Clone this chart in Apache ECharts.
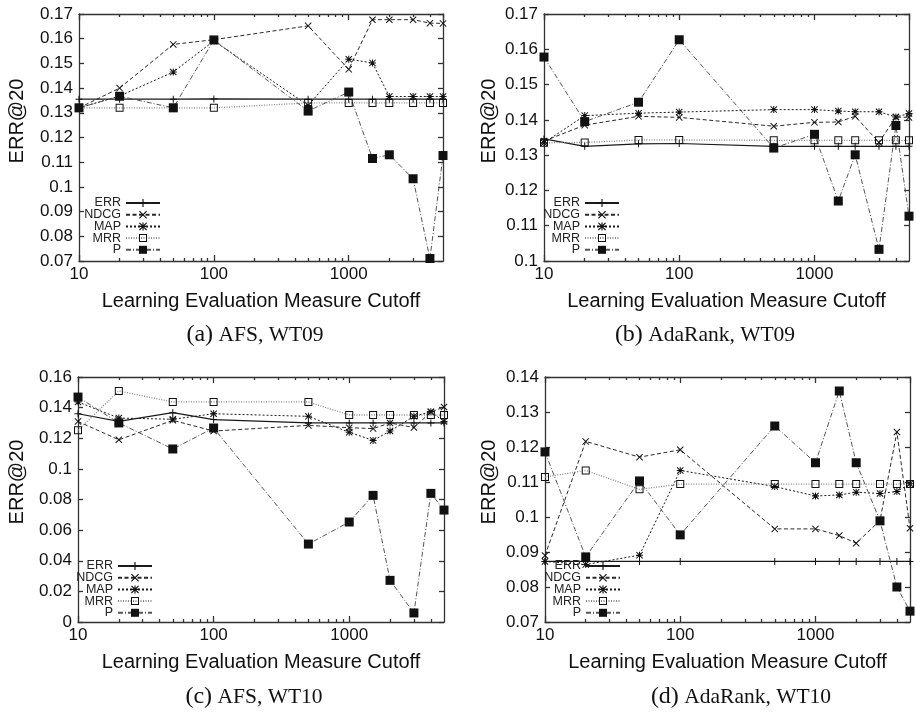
<!DOCTYPE html>
<html>
<head>
<meta charset="utf-8">
<title>ERR@20 vs learning evaluation measure cutoff</title>
<script src="https://cdn.jsdelivr.net/npm/echarts@6/dist/echarts.min.js"></script>
<style>
  html, body { margin: 0; padding: 0; background: #fff; }
  #chart { width: 916px; height: 714px; }
</style>
</head>
<body>
<div id="chart"></div>
<script>
// x values (cutoffs), shared by the four panels
var cutoffs = [10, 20, 50, 100, 500, 1000, 1500, 2000, 3000, 4000, 5000];
var minorTicks = [20, 30, 40, 50, 60, 70, 80, 90, 200, 300, 400, 500, 600, 700, 800, 900, 2000, 3000, 4000];
var seriesNames = ['ERR', 'NDCG', 'MAP', 'MRR', 'P'];

// (a) AFS, WT09
var afs09ERR = [0.1355, 0.1355, 0.1355, 0.1356, 0.1355, 0.1355, 0.1355, 0.1355, 0.1355, 0.1355, 0.1355];
var afs09NDCG = [0.132, 0.140, 0.1577, 0.1596, 0.1652, 0.1476, 0.1677, 0.1677, 0.1677, 0.1663, 0.1662];
var afs09MAP = [0.132, 0.1368, 0.1465, 0.1591, 0.1330, 0.1517, 0.1502, 0.1366, 0.1366, 0.1366, 0.1366];
var afs09MRR = [0.132, 0.132, 0.132, 0.132, 0.134, 0.134, 0.134, 0.134, 0.134, 0.134, 0.134];
var afs09P = [0.132, 0.1367, 0.132, 0.1595, 0.1307, 0.1384, 0.1115, 0.113, 0.1033, 0.0710, 0.1127];

// (b) AdaRank, WT09
var ada09ERR = [0.1346, 0.1325, 0.1332, 0.1333, 0.1325, 0.1325, 0.1325, 0.1325, 0.1325, 0.1325, 0.1325];
var ada09NDCG = [0.134, 0.1385, 0.141, 0.1407, 0.1382, 0.1393, 0.1394, 0.141, 0.1336, 0.1408, 0.1407];
var ada09MAP = [0.1335, 0.1412, 0.1419, 0.1422, 0.1429, 0.1429, 0.1425, 0.1423, 0.1423, 0.1408, 0.1418];
var ada09MRR = [0.1335, 0.1336, 0.1343, 0.1343, 0.1342, 0.1342, 0.1342, 0.1342, 0.1342, 0.1342, 0.1342];
var ada09P = [0.1578, 0.1395, 0.145, 0.1627, 0.132, 0.1359, 0.117, 0.1301, 0.1033, 0.1384, 0.1127];

// (c) AFS, WT10
var afs10ERR = [0.136, 0.131, 0.1367, 0.1322, 0.130, 0.130, 0.130, 0.130, 0.130, 0.130, 0.130];
var afs10NDCG = [0.131, 0.119, 0.1317, 0.1247, 0.1284, 0.1269, 0.1263, 0.130, 0.127, 0.1371, 0.1404];
var afs10MAP = [0.1437, 0.1332, 0.1324, 0.136, 0.1343, 0.1239, 0.1186, 0.1247, 0.1343, 0.1373, 0.131];
var afs10MRR = [0.1252, 0.1509, 0.1437, 0.1437, 0.1437, 0.1352, 0.1352, 0.1352, 0.1352, 0.1352, 0.1352];
var afs10P = [0.1469, 0.130, 0.113, 0.1267, 0.0509, 0.0653, 0.0827, 0.0272, 0.0059, 0.084, 0.0731];

// (d) AdaRank, WT10
var ada10ERR = [0.0873, 0.0873, 0.0873, 0.0873, 0.0873, 0.0873, 0.0873, 0.0873, 0.0873, 0.0873, 0.0873];
var ada10NDCG = [0.089, 0.1216, 0.1171, 0.1192, 0.0966, 0.0966, 0.0947, 0.0925, 0.099, 0.1243, 0.0968];
var ada10MAP = [0.0873, 0.0864, 0.0891, 0.1133, 0.1087, 0.106, 0.1063, 0.1071, 0.1067, 0.1073, 0.1095];
var ada10MRR = [0.1114, 0.1133, 0.1079, 0.1094, 0.1094, 0.1094, 0.1094, 0.1094, 0.1094, 0.1094, 0.1094];
var ada10P = [0.1186, 0.0886, 0.1103, 0.0949, 0.126, 0.1155, 0.136, 0.1155, 0.0989, 0.080, 0.0731];

// y tick ranges per panel: min, max, step
var yRangeA = [0.07, 0.17, 0.01];
var yRangeB = [0.1, 0.17, 0.01];
var yRangeC = [0, 0.16, 0.02];
var yRangeD = [0.07, 0.14, 0.01];

var FONT = 'Liberation Sans';
var SERIF = 'Liberation Serif';

var panels = [
  { grid: { left: 79, top: 14, width: 364, height: 247 }, y: yRangeA,
    data: [afs09ERR, afs09NDCG, afs09MAP, afs09MRR, afs09P],
    legend: { left: 83, top: 196.5 }, yName: [17, 121], caption: ['(a)', 'AFS, WT09', 255, 335] },
  { grid: { left: 544, top: 14, width: 365, height: 247 }, y: yRangeB,
    data: [ada09ERR, ada09NDCG, ada09MAP, ada09MRR, ada09P],
    legend: { left: 542, top: 196.5 }, yName: [489, 121], caption: ['(b)', 'AdaRank, WT09', 705, 335] },
  { grid: { left: 78, top: 377, width: 366, height: 245 }, y: yRangeC,
    data: [afs10ERR, afs10NDCG, afs10MAP, afs10MRR, afs10P],
    legend: { left: 75, top: 559.5 }, yName: [17, 482], caption: ['(c)', 'AFS, WT10', 254, 697] },
  { grid: { left: 545, top: 377, width: 365, height: 245 }, y: yRangeD,
    data: [ada10ERR, ada10NDCG, ada10MAP, ada10MRR, ada10P],
    legend: { left: 543, top: 559.5 }, yName: [489, 482], caption: ['(d)', 'AdaRank, WT10', 741, 697] }
];

// gnuplot-like point types
var plusPath = 'path://M3 0h1v3h3v1h-3v3h-1v-3h-3v-1h3z';
var crossPath = 'path://M0 0.7L0.7 0L3.5 2.8L6.3 0L7 0.7L4.2 3.5L7 6.3L6.3 7L3.5 4.2L0.7 7L0 6.3L2.8 3.5Z';
var starPath = 'path://M3 0h1v3h3v1h-3v3h-1v-3h-3v-1h3z M0 0.7L0.7 0L3.5 2.8L6.3 0L7 0.7L4.2 3.5L7 6.3L6.3 7L3.5 4.2L0.7 7L0 6.3L2.8 3.5Z';
var boxPath = 'path://M0 0H8V8H0Z M1 1V7H7V1Z';

var styles = [
  { symbol: plusPath, symbolSize: 7, line: { color: '#1a1a1a', width: 1.2, type: 'solid' } },
  { symbol: crossPath, symbolSize: 7, line: { color: '#2a2a2a', width: 1, type: [4, 2.5] } },
  { symbol: starPath, symbolSize: 7, line: { color: '#1a1a1a', width: 1, type: [2, 2] } },
  { symbol: boxPath, symbolSize: 8, line: { color: '#888', width: 1.3, type: [1, 1.5] } },
  { symbol: 'rect', symbolSize: 9, line: { color: '#555', width: 1, type: [5, 2, 1, 2] } }
];

var frame = { color: '#333', width: 1.3 };
var logMin = Math.log10(cutoffs[0]);
var logMax = Math.log10(cutoffs[cutoffs.length - 1]);

var option = {
  animation: false,
  backgroundColor: '#fff',
  grid: [], xAxis: [], yAxis: [], legend: [], series: [], graphic: []
};

panels.forEach(function (p, i) {
  option.grid.push(p.grid);

  // main log axis (bottom) with labels and major ticks
  option.xAxis.push({
    type: 'log', logBase: 10, gridIndex: i, min: 10, max: 5000, position: 'bottom',
    axisLine: { show: true, onZero: false, lineStyle: frame },
    axisTick: { inside: true, length: 6, lineStyle: frame },
    axisLabel: {
      fontFamily: FONT, fontSize: 17, color: '#111', margin: 5, showMaxLabel: false,
      formatter: function (v) { return String(Math.round(v)); }
    },
    splitLine: { show: false },
    name: 'Learning Evaluation Measure Cutoff', nameLocation: 'middle', nameGap: 30,
    nameTextStyle: { fontFamily: FONT, fontSize: 20, color: '#111' }
  });
  // mirrored top axis
  option.xAxis.push({
    type: 'log', logBase: 10, gridIndex: i, min: 10, max: 5000, position: 'top',
    axisLine: { show: true, onZero: false, lineStyle: frame },
    axisTick: { inside: true, length: 6, lineStyle: frame },
    axisLabel: { show: false }, splitLine: { show: false }
  });
  // minor ticks (decade sub-divisions), bottom and top, on a log10 value scale
  ['bottom', 'top'].forEach(function (pos) {
    option.xAxis.push({
      type: 'value', gridIndex: i, min: logMin, max: logMax, position: pos,
      axisLine: { show: false, onZero: false },
      axisTick: { inside: true, length: 3, customValues: minorTicks.map(Math.log10), lineStyle: frame },
      axisLabel: { show: false }, splitLine: { show: false }
    });
  });

  ['left', 'right'].forEach(function (pos) {
    option.yAxis.push({
      type: 'value', gridIndex: i, min: p.y[0], max: p.y[1], interval: p.y[2], position: pos,
      axisLine: { show: true, onZero: false, lineStyle: frame },
      axisTick: { inside: true, length: 5, lineStyle: frame },
      axisLabel: {
        show: pos === 'left', fontFamily: FONT, fontSize: 17, color: '#111', margin: 6,
        formatter: function (v) { return String(+v.toFixed(3)); }
      },
      splitLine: { show: false }
    });
  });

  seriesNames.forEach(function (name, k) {
    var st = styles[k];
    option.series.push({
      name: name, type: 'line', xAxisIndex: i * 4, yAxisIndex: i * 2,
      data: cutoffs.map(function (c, j) { return [c, p.data[k][j]]; }),
      symbol: st.symbol, symbolSize: st.symbolSize, showAllSymbol: true,
      itemStyle: { color: '#111' },
      lineStyle: st.line,
      emphasis: { disabled: true }
    });
  });

  option.legend.push({
    orient: 'vertical', left: p.legend.left, top: p.legend.top, padding: 0,
    itemGap: -1.3, itemWidth: 34, itemHeight: 10, align: 'right', selectedMode: false,
    data: seriesNames,
    formatter: '{n|{name}}',
    textStyle: { rich: { n: { width: 38, align: 'right', fontFamily: FONT, fontSize: 12.5, lineHeight: 11, color: '#222' } } }
  });

  option.graphic.push({
    type: 'text', x: p.yName[0], y: p.yName[1], rotation: Math.PI / 2,
    style: { text: 'ERR@20', fontFamily: FONT, fontSize: 20, fill: '#111', align: 'center', verticalAlign: 'middle' }
  });
  option.graphic.push({
    type: 'text', x: p.caption[2], y: p.caption[3],
    style: {
      text: '{p|' + p.caption[0] + '}{s| }{t|' + p.caption[1] + '}',
      align: 'center', verticalAlign: 'middle', fill: '#111',
      rich: {
        p: { fontFamily: SERIF, fontSize: 24, fill: '#111' },
        s: { fontFamily: SERIF, fontSize: 21.5, fill: '#111' },
        t: { fontFamily: SERIF, fontSize: 21.5, fill: '#111' }
      }
    }
  });
});

var myChart = echarts.init(document.getElementById('chart'));
myChart.setOption(option);
window.addEventListener('resize', function () {
  myChart.resize();
});
</script>
</body>
</html>
